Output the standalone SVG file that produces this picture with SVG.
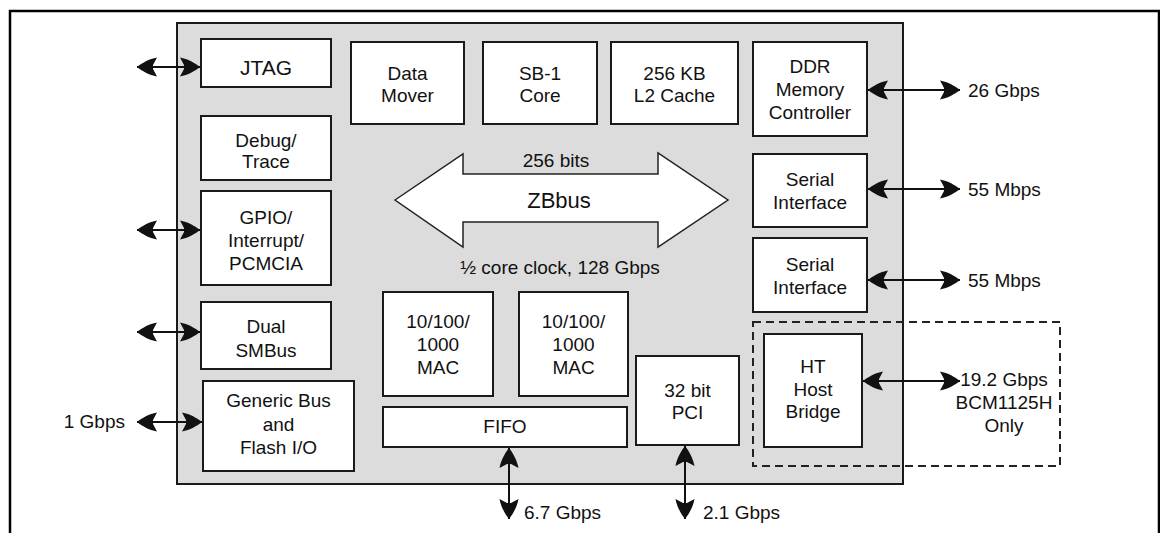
<svg xmlns="http://www.w3.org/2000/svg" width="1160" height="533" viewBox="0 0 1160 533">
<defs>
<style>
.box{fill:#fff;stroke:#1a1a1a;stroke-width:2}
.t{font-family:"Liberation Sans",Arial,sans-serif;font-size:19px;fill:#111;text-anchor:middle}
.l{font-family:"Liberation Sans",Arial,sans-serif;font-size:19px;fill:#111}
.c{stroke:#111;stroke-width:2;fill:none;marker-start:url(#ah);marker-end:url(#ah)}
</style>
<marker id="ah" viewBox="-22 -11 24 22" markerWidth="24" markerHeight="22" refX="0" refY="0" orient="auto-start-reverse" markerUnits="userSpaceOnUse">
<path d="M0,0 C-5,-4 -12,-8 -20,-9.5 L-16,-2 L-16,2 L-20,9.5 C-12,8 -5,4 0,0 Z" fill="#111"/>
</marker>
</defs>
<rect width="1160" height="533" fill="#fff"/>
<path d="M10,533 V11 H1159 V533" fill="none" stroke="#000" stroke-width="2.5"/>
<g id="chip">
<rect x="177" y="23" width="726" height="461" fill="#dcdcdc" stroke="#1a1a1a" stroke-width="2"/>
</g>
<g id="ht-option">
<rect x="753" y="322" width="307" height="144" fill="none" stroke="#222" stroke-width="2" stroke-dasharray="8 5"/>
</g>
<g id="zbbus">
<polygon points="395,200 463,154 463,174 658,174 658,153 728,200 658,247 658,222 463,222 463,247" fill="#fff" stroke="#222" stroke-width="1.5"/>
<text class="t" x="556" y="167">256 bits</text>
<text class="t" x="559" y="208" style="font-size:22px">ZBbus</text>
<text class="t" x="560" y="274">½ core clock, 128 Gbps</text>
</g>
<g id="jtag"><rect class="box" x="201" y="39" width="130" height="48"/><text class="t" x="266" y="75" style="font-size:21px">JTAG</text></g>
<g id="debug"><rect class="box" x="201" y="116" width="130" height="64"/><text class="t" x="266" y="147">Debug/</text><text class="t" x="266" y="168">Trace</text></g>
<g id="gpio"><rect class="box" x="201" y="191" width="130" height="94"/><text class="t" x="266" y="224">GPIO/</text><text class="t" x="266" y="247">Interrupt/</text><text class="t" x="266" y="270">PCMCIA</text></g>
<g id="smbus"><rect class="box" x="201" y="302" width="130" height="67"/><text class="t" x="266" y="333">Dual</text><text class="t" x="266" y="357">SMBus</text></g>
<g id="genericbus"><rect class="box" x="203" y="381" width="151" height="90"/><text class="t" x="278.5" y="407">Generic Bus</text><text class="t" x="278.5" y="431">and</text><text class="t" x="278.5" y="454">Flash I/O</text></g>
<g id="datamover"><rect class="box" x="351" y="42" width="113" height="82"/><text class="t" x="407.5" y="80">Data</text><text class="t" x="407.5" y="102">Mover</text></g>
<g id="sb1"><rect class="box" x="483" y="42" width="114" height="82"/><text class="t" x="540" y="80">SB-1</text><text class="t" x="540" y="102">Core</text></g>
<g id="l2cache"><rect class="box" x="611" y="42" width="127" height="82"/><text class="t" x="674.5" y="80">256 KB</text><text class="t" x="674.5" y="102">L2 Cache</text></g>
<g id="ddr"><rect class="box" x="753" y="42" width="114" height="94"/><text class="t" x="810" y="73">DDR</text><text class="t" x="810" y="96">Memory</text><text class="t" x="810" y="119">Controller</text></g>
<g id="serial1"><rect class="box" x="753" y="154" width="114" height="73"/><text class="t" x="810" y="186">Serial</text><text class="t" x="810" y="209">Interface</text></g>
<g id="serial2"><rect class="box" x="753" y="238" width="114" height="74"/><text class="t" x="810" y="271">Serial</text><text class="t" x="810" y="294">Interface</text></g>
<g id="htbridge"><rect class="box" x="764" y="334" width="98" height="113"/><text class="t" x="813" y="373">HT</text><text class="t" x="813" y="396">Host</text><text class="t" x="813" y="418">Bridge</text></g>
<g id="mac1"><rect class="box" x="383" y="292" width="110" height="104"/><text class="t" x="438" y="328">10/100/</text><text class="t" x="438" y="351">1000</text><text class="t" x="438" y="374">MAC</text></g>
<g id="mac2"><rect class="box" x="519" y="292" width="109" height="104"/><text class="t" x="573.5" y="328">10/100/</text><text class="t" x="573.5" y="351">1000</text><text class="t" x="573.5" y="374">MAC</text></g>
<g id="fifo"><rect class="box" x="383" y="407" width="244" height="40"/><text class="t" x="505" y="433">FIFO</text></g>
<g id="pci"><rect class="box" x="636" y="356" width="103" height="89"/><text class="t" x="687.5" y="397">32 bit</text><text class="t" x="687.5" y="419">PCI</text></g>
<g id="connectors">
<line class="c" x1="137" y1="67" x2="200" y2="67"/>
<line class="c" x1="137" y1="230" x2="200" y2="230"/>
<line class="c" x1="137" y1="332" x2="200" y2="332"/>
<line class="c" x1="137" y1="422" x2="202" y2="422"/>
<line class="c" x1="868" y1="90" x2="960" y2="90"/>
<line class="c" x1="868" y1="189" x2="960" y2="189"/>
<line class="c" x1="868" y1="280" x2="960" y2="280"/>
<line class="c" x1="863" y1="381" x2="960" y2="381"/>
<line class="c" x1="509" y1="448" x2="509" y2="519"/>
<line class="c" x1="685" y1="446" x2="685" y2="519"/>
</g>
<g id="labels">
<text class="l" x="968" y="97">26 Gbps</text>
<text class="l" x="968" y="196">55 Mbps</text>
<text class="l" x="968" y="287">55 Mbps</text>
<text class="t" x="1004" y="386">19.2 Gbps</text>
<text class="t" x="1004" y="409">BCM1125H</text>
<text class="t" x="1004" y="432">Only</text>
<text class="l" x="125" y="428" style="text-anchor:end">1 Gbps</text>
<text class="l" x="524" y="519">6.7 Gbps</text>
<text class="l" x="703" y="519">2.1 Gbps</text>
</g>
</svg>
